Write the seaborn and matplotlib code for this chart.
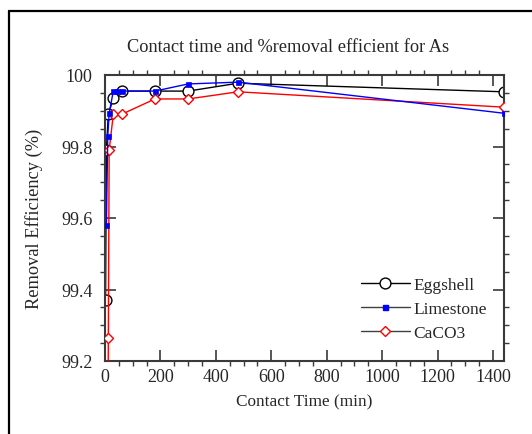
import matplotlib
matplotlib.use("Agg")
import matplotlib.pyplot as plt
import seaborn as sns
import pandas as pd
from matplotlib.ticker import MultipleLocator
from matplotlib.lines import Line2D

# ---- data ----
egg_time = [2, 5, 12, 30, 60, 180, 300, 480, 1440]
egg_eff = [99.37, 99.79, 99.89, 99.935, 99.955, 99.955, 99.955, 99.977, 99.953]

lime_time = [5, 10, 15, 30, 45, 60, 180, 300, 480, 1440]
lime_eff = [99.58, 99.83, 99.893, 99.955, 99.955, 99.955, 99.955, 99.975, 99.98, 99.893]

caco3_time = [8, 12, 15, 30, 60, 180, 300, 480, 1440]
caco3_eff = [98.5, 99.265, 99.79, 99.89, 99.89, 99.933, 99.933, 99.953, 99.91]

series_names = ["Eggshell", "Limestone", "CaCO3"]
title_text = "Contact time and %removal efficient for As"
x_label = "Contact Time (min)"
y_label = "Removal Efficiency (%)"
y_ticks = [99.2, 99.4, 99.6, 99.8, 100.0]
y_tick_labels = ["99.2", "99.4", "99.6", "99.8", "100"]

sns.set_style("ticks")
plt.rcParams["font.family"] = ["Liberation Serif", "DejaVu Serif"]

fig = plt.figure(figsize=(5.32, 4.35), dpi=100)
ax = fig.add_axes([105 / 532, 1 - 362 / 435, (504 - 105) / 532, (362 - 76) / 435])

df_egg = pd.DataFrame({"t": egg_time, "v": egg_eff})
df_lime = pd.DataFrame({"t": lime_time, "v": lime_eff})
df_ca = pd.DataFrame({"t": caco3_time, "v": caco3_eff})

sns.lineplot(data=df_egg, x="t", y="v", ax=ax, color="black", lw=1.0,
             marker="o", markersize=7.8, markerfacecolor="white",
             markeredgecolor="black", markeredgewidth=1.0,
             sort=False, estimator=None, zorder=2)
sns.lineplot(data=df_ca, x="t", y="v", ax=ax, color="#ff0000", lw=1.0,
             marker="D", markersize=5.0, markerfacecolor="white",
             markeredgecolor="#ff0000", markeredgewidth=1.0,
             sort=False, estimator=None, zorder=3)
sns.lineplot(data=df_lime, x="t", y="v", ax=ax, color="#0000ff", lw=1.0,
             marker="s", markersize=3.6, markerfacecolor="#0000ff",
             markeredgecolor="#0000ff", markeredgewidth=0.5,
             sort=False, estimator=None, zorder=4)

ax.set_xlim(0, 1440)
ax.set_ylim(99.2, 100.0)
ax.xaxis.set_major_locator(MultipleLocator(200))
ax.xaxis.set_minor_locator(MultipleLocator(50))
ax.yaxis.set_minor_locator(MultipleLocator(0.05))
ax.set_yticks(y_ticks)
ax.set_yticklabels(y_tick_labels)

spine_col = "#3a3a3a"
for s in ax.spines.values():
    s.set_visible(True)
    s.set_color(spine_col)
    s.set_linewidth(1.5)

ax.tick_params(which="major", direction="in", length=8, width=1.2, color=spine_col,
               top=True, right=True, labelsize=13, pad=5)
ax.tick_params(which="minor", direction="out", length=3.5, width=1.0, color=spine_col,
               top=True, right=True)
ax.tick_params(axis="y", which="major", pad=9)

ax.set_xlabel(x_label, fontsize=12.4, labelpad=6)
ax.set_ylabel(y_label, fontsize=13.2, labelpad=13)
fig.text(288 / 532, 1 - 48 / 435, title_text, fontsize=13.2, ha="center", va="center")

handles = [
    Line2D([], [], color="black", lw=1.0, marker="o", markersize=7.8,
           markerfacecolor="white", markeredgecolor="black"),
    Line2D([], [], color="#404040", lw=1.0, marker="s", markersize=3.6,
           markerfacecolor="#0000ff", markeredgecolor="#0000ff"),
    Line2D([], [], color="#404040", lw=1.0, marker="D", markersize=5.0,
           markerfacecolor="white", markeredgecolor="#ff0000"),
]
leg = ax.legend(handles, series_names, loc="upper left",
                bbox_to_anchor=((354 - 105) / 399, 1 - (271 - 76) / 286),
                frameon=False, fontsize=12.5, handlelength=2.8, handletextpad=0.2,
                labelspacing=0.45, borderaxespad=0)

# outer frame (top and left edges of a larger box)
fig.add_artist(Line2D([9 / 532, 1.0], [1 - 12 / 435, 1 - 12 / 435],
                      transform=fig.transFigure, color="black", lw=1.6))
fig.add_artist(Line2D([9 / 532, 9 / 532], [1 - 12 / 435, 0.0],
                      transform=fig.transFigure, color="black", lw=1.6))

fig.savefig("out.png", dpi=100)
